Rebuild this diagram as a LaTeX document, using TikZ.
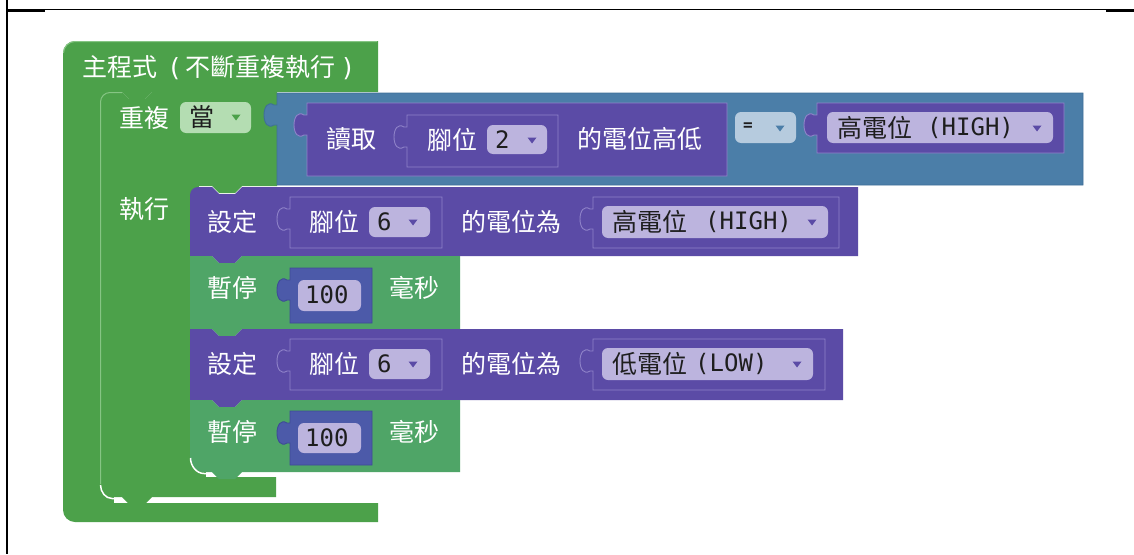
\documentclass[tikz,border=0pt]{standalone}
\usepackage{fontspec}
\newfontfamily\cjk{Noto Sans CJK TC}
\newfontfamily\mono{DejaVu Sans Mono}
\definecolor{loopG}{HTML}{4CA14A}
\definecolor{loopGL}{HTML}{86C584}
\definecolor{timeG}{HTML}{4FA567}
\definecolor{purp}{HTML}{5B4BA6}
\definecolor{purpL}{HTML}{8F83C9}
\definecolor{logicB}{HTML}{4B7EA8}
\definecolor{logicBD}{HTML}{3F6F97}
\definecolor{numB}{HTML}{4C5AA9}
\definecolor{numBD}{HTML}{3E4B96}
\definecolor{lav}{HTML}{BCB4DE}
\definecolor{lgreen}{HTML}{B4DDB2}
\definecolor{lblue}{HTML}{B6CBDE}
\definecolor{darkTxt}{HTML}{1E1E1E}
\tikzset{
 lbl/.style={inner sep=0pt, anchor=west, text=white, font=\cjk\fontsize{25}{25}\selectfont},
 fld/.style={inner sep=0pt, anchor=west, text=darkTxt, font=\cjk\fontsize{25}{25}\selectfont},
 numtxt/.style={inner sep=0pt, anchor=west, text=darkTxt, font=\mono\fontsize{24}{24}\selectfont},
}
% value block with left puzzle tab: L T R B fill draw
\newcommand{\valblk}[6]{\filldraw[fill=#5,draw=#6,line width=0.9pt] (#1,#2) -- (#3,#2) -- (#3,#4) -- (#1,#4) -- (#1,{#2+32}) -- ({#1-3},{#2+32}) .. controls ({#1-9},{#2+36}) and ({#1-13},{#2+30}) .. ({#1-13},{#2+22}) .. controls ({#1-13},{#2+14}) and ({#1-9},{#2+8}) .. ({#1-3},{#2+12}) -- (#1,{#2+12}) -- cycle;}
% statement block with top notch and bottom tab: L T R B fill radius
\newcommand{\stmtblk}[6]{\fill[#5] (#1,{#2+#6}) .. controls (#1,{#2+0.45*#6}) and ({#1+0.45*#6},#2) .. ({#1+#6},#2) -- ({#1+22},#2) -- ({#1+29},{#2+7}) -- ({#1+45},{#2+7}) -- ({#1+52},#2) -- (#3,#2) -- (#3,#4) -- ({#1+52},#4) -- ({#1+45},{#4+7}) -- ({#1+29},{#4+7}) -- ({#1+22},#4) -- (#1,#4) -- cycle;}
\newcommand{\fldbox}[5]{\fill[#5,rounded corners=6pt] (#1,#2) rectangle (#3,#4);}
\newcommand{\ddarr}[3]{\fill[#3] ({#1-4.5},{#2-2.5}) -- ({#1+4.5},{#2-2.5}) -- (#1,{#2+3.5}) -- cycle;}
\begin{document}
\begin{tikzpicture}[x=1pt,y=-1pt]
\useasboundingbox (0,0) rectangle (1134,554);
\fill[white] (0,0) rectangle (1134,554);
% frame
\draw[line width=2.5pt] (7,0) -- (7,554);
\draw[line width=1.1pt] (7,9.5) -- (1134,9.5);
\fill (7,9) rectangle (45,11.5);
\fill (1106,9) rectangle (1134,11.5);

% outer main block
\fill[loopG] (63,53) .. controls (63,46.4) and (68.4,41) .. (75,41) -- (378,41) -- (378,92) -- (152,92) -- (145,99) -- (129,99) -- (122,92) -- (100,92) -- (100,503) -- (378,503) -- (378,522) -- (75,522) .. controls (68.4,522) and (63,516.6) .. (63,510) -- cycle;
\draw[loopGL, line width=1pt] (63.5,53) .. controls (63.5,46.8) and (68.8,41.5) .. (75,41.5) -- (377,41.5);
\fill[loopG] (99,484) rectangle (114,503);
\fill[loopG] (99,91) rectangle (111,103);

% inner repeat block
\fill[loopG] (100,102) .. controls (100,96.5) and (104.5,92) .. (110,92) -- (122,92) -- (129,99) -- (145,99) -- (152,92) -- (277,92) -- (277,186) -- (242,186) -- (235,193) -- (219,193) -- (212,186) -- (190,186) -- (190,477) -- (276,477) -- (276,497) -- (152,497) -- (145,504) -- (129,504) -- (122,497) -- (112,497) .. controls (105.4,497) and (100,491.6) .. (100,485) -- cycle;
\draw[loopGL, line width=1pt] (100.5,484) -- (100.5,102) .. controls (100.5,96.8) and (104.8,92.5) .. (110,92.5) -- (122,92.5);
\draw[white, line width=1.5pt] (100.5,485) .. controls (100.5,492) and (105.5,498.5) .. (112,498.5) -- (122,498.5);
\fill[loopG] (189,185) rectangle (199,196);
\fill[loopG] (189,458) rectangle (206,477);

% logic compare block
\valblk{277}{93}{1083}{185}{logicB}{logicBD}
\valblk{307}{103}{727}{176}{purp}{purpL}
\valblk{407}{115}{558}{167}{purp}{purpL}
\fldbox{487}{125}{547}{154}{lav}
\fldbox{735}{112}{796}{143}{lblue}
\valblk{817}{103}{1064}{153}{purp}{purpL}
\fldbox{827}{112}{1053}{143}{lav}

% set block 1
\stmtblk{190}{187}{858}{256}{purp}{8}
\valblk{290}{197}{442}{248}{purp}{purpL}
\fldbox{369}{207}{430}{237}{lav}
\valblk{593}{197}{839}{248}{purp}{purpL}
\fldbox{602}{206}{828}{238}{lav}

% delay block 1
\stmtblk{190}{256}{460}{329}{timeG}{0}
\valblk{290}{268}{372}{323}{numB}{numBD}
\fldbox{298}{280}{361}{311}{lav}

% set block 2
\stmtblk{190}{329}{843}{400}{purp}{0}
\valblk{290}{339}{442}{390}{purp}{purpL}
\fldbox{369}{349}{430}{379}{lav}
\valblk{593}{339}{825}{390}{purp}{purpL}
\fldbox{602}{348}{813}{380}{lav}

% delay block 2 (rounded bottom-left)
\fill[timeG] (190,400) -- (212,400) -- (219,407) -- (235,407) -- (242,400) -- (460,400) -- (460,472) -- (242,472) -- (235,479) -- (219,479) -- (212,472) -- (204,472) .. controls (196.3,472) and (190,465.7) .. (190,458) -- cycle;
\draw[white, line width=1.5pt] (190.5,458) .. controls (190.5,466) and (196.5,473.5) .. (204,473.5) -- (212,473.5);
\valblk{290}{411}{372}{465}{numB}{numBD}
\fldbox{298}{423}{361}{453}{lav}

% texts
\node[lbl] (title) at (82,68) {主程式\hspace{10pt}{\mono\fontsize{25}{25}\selectfont(}\hspace{3pt}不斷重複執行\hspace{5pt}{\mono\fontsize{25}{25}\selectfont)}};
\node[lbl] (rep) at (119,118) {重複};
\fldbox{180}{102}{251}{133}{lgreen}
\node[fld] (when) at (189,117) {當};
\ddarr{236}{117}{loopG}
\node[lbl] (do) at (119,209) {執行};

\node[lbl] (read) at (326,139) {讀取};
\node[lbl] (pinA) at (427,140) {腳位};
\node[numtxt] (pinAv) at (495,140) {2};
\ddarr{532}{140}{purp}
\node[lbl] (lvl) at (577,139) {的電位高低};
\node[inner sep=0pt, anchor=west, text=darkTxt, font=\mono\bfseries\fontsize{16}{16}\selectfont] (eq) at (743,127) {=};
\ddarr{780}{128}{logicB}
\node[fld] (hiA) at (837,128) {高電位};
\node[numtxt] (hiAb) at (927,128) {(HIGH)};
\ddarr{1037}{128}{purp}

\node[lbl] (set1) at (207,222) {設定};
\node[lbl] (pin1) at (309,222) {腳位};
\node[numtxt] (pin1v) at (377,222) {6};
\ddarr{413}{222}{purp}
\node[lbl] (to1) at (461,222) {的電位為};
\node[fld] (hi1) at (612,222) {高電位};
\node[numtxt] (hi1b) at (705,222) {(HIGH)};
\ddarr{812}{222}{purp}

\node[lbl] (wait1) at (207,288) {暫停};
\node[numtxt] (ms1v) at (305,295) {100};
\node[lbl] (ms1) at (389,288) {毫秒};

\node[lbl] (set2) at (207,364) {設定};
\node[lbl] (pin2) at (309,364) {腳位};
\node[numtxt] (pin2v) at (377,364) {6};
\ddarr{413}{364}{purp}
\node[lbl] (to2) at (461,364) {的電位為};
\node[fld] (lo2) at (612,364) {低電位};
\node[numtxt] (lo2b) at (695,364) {(LOW)};
\ddarr{797}{364}{purp}

\node[lbl] (wait2) at (207,432) {暫停};
\node[numtxt] (ms2v) at (305,438) {100};
\node[lbl] (ms2) at (389,432) {毫秒};
\end{tikzpicture}
\end{document}
